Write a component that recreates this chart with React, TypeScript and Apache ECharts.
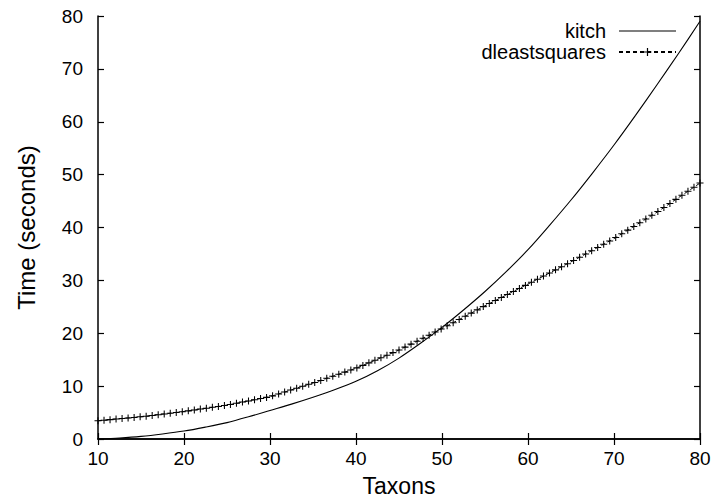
import React, { useEffect, useRef } from "react";
import * as echarts from "echarts";

const kitchTaxa = [
  10, 12.5, 15, 17.5, 20, 22.5, 25, 27.5, 30, 32.5, 35, 37.5, 40, 42.5, 45,
  47.5, 50, 52.5, 55, 57.5, 60, 62.5, 65, 67.5, 70, 72.5, 75, 77.5, 80,
];
const kitchTime = [
  0, 0.2, 0.5, 0.95, 1.5, 2.25, 3.1, 4.2, 5.4, 6.6, 7.9, 9.3, 10.9, 12.9, 15.3,
  18.1, 21.1, 24.4, 27.9, 31.7, 35.8, 40.4, 45.2, 50.3, 55.6, 61.2, 67.0, 72.9, 79.0,
];

const dlsTaxa = [
  10.0, 10.7, 11.4, 12.1, 12.8, 13.5, 14.2, 14.9, 15.6, 16.3,
  17.0, 17.7, 18.4, 19.1, 19.8, 20.5, 21.2, 21.9, 22.6, 23.3,
  24.0, 24.7, 25.4, 26.1, 26.8, 27.5, 28.2, 28.9, 29.6, 30.3,
  31.0, 31.7, 32.4, 33.1, 33.8, 34.5, 35.2, 35.9, 36.6, 37.3,
  38.0, 38.7, 39.4, 40.1, 40.8, 41.5, 42.2, 42.9, 43.6, 44.3,
  45.0, 45.7, 46.4, 47.1, 47.8, 48.5, 49.2, 49.9, 50.6, 51.3,
  52.0, 52.7, 53.4, 54.1, 54.8, 55.5, 56.2, 56.9, 57.6, 58.3,
  59.0, 59.7, 60.4, 61.1, 61.8, 62.5, 63.2, 63.9, 64.6, 65.3,
  66.0, 66.7, 67.4, 68.1, 68.8, 69.5, 70.2, 70.9, 71.6, 72.3,
  73.0, 73.7, 74.4, 75.1, 75.8, 76.5, 77.2, 77.9, 78.6, 79.3,
  80.0,
];
const dlsTime = [
  3.45, 3.56, 3.66, 3.77, 3.87, 3.98, 4.08, 4.19, 4.32, 4.46,
  4.60, 4.74, 4.88, 5.02, 5.16, 5.32, 5.49, 5.66, 5.82, 5.99,
  6.16, 6.33, 6.53, 6.75, 6.98, 7.20, 7.42, 7.65, 7.87, 8.16,
  8.52, 8.88, 9.25, 9.61, 9.98, 10.34, 10.68, 11.08, 11.48, 11.88,
  12.25, 12.65, 13.05, 13.45, 13.92, 14.40, 14.88, 15.36, 15.85, 16.34,
  16.83, 17.38, 17.94, 18.50, 19.07, 19.64, 20.22, 20.80, 21.40, 22.00,
  22.60, 23.20, 23.81, 24.42, 25.04, 25.61, 26.18, 26.76, 27.33, 27.91,
  28.48, 29.05, 29.64, 30.22, 30.81, 31.40, 31.99, 32.58, 33.16, 33.76,
  34.38, 34.99, 35.61, 36.23, 36.84, 37.46, 38.10, 38.80, 39.50, 40.20,
  40.90, 41.60, 42.30, 43.01, 43.78, 44.55, 45.32, 46.09, 46.86, 47.63,
  48.40,
];

const FONT = "Liberation Sans, Arial, Helvetica, sans-serif";
const PLUS =
  "path://M-0.15,-1L0.15,-1L0.15,-0.15L1,-0.15L1,0.15L0.15,0.15L0.15,1L-0.15,1L-0.15,0.15L-1,0.15L-1,-0.15L-0.15,-0.15Z";
const SOLID_ICON = "path://M0,0L57,0L57,1.1L0,1.1Z";

export default function App() {
  const ref = useRef<HTMLDivElement>(null);
  useEffect(() => {
    if (!ref.current) return;
    const chart = echarts.init(ref.current, null, { renderer: "svg" });
    const axisCommon = {
      axisLine: { show: true, lineStyle: { color: "#000", width: 1.5 } },
      axisTick: { show: true, inside: true, length: 6, lineStyle: { color: "#000", width: 1.2 } },
      splitLine: { show: false },
    };
    chart.setOption({
      animation: false,
      backgroundColor: "#fff",
      textStyle: { fontFamily: FONT, color: "#000" },
      grid: { left: 98, right: 15, top: 16, bottom: 61, containLabel: false },
      legend: {
        data: [{ name: "kitch", icon: SOLID_ICON }, { name: "dleastsquares" }],
        orient: "vertical",
        right: 38,
        top: 21,
        align: "right",
        itemWidth: 57,
        itemHeight: 10,
        itemGap: 1,
        padding: 0,
        textStyle: { fontFamily: FONT, fontSize: 20, color: "#000", padding: [0, 8, 0, 0] },
      },
      xAxis: [
        {
          type: "value",
          min: 10,
          max: 80,
          interval: 10,
          position: "bottom",
          name: "Taxons",
          nameLocation: "middle",
          nameGap: 35,
          nameTextStyle: { fontFamily: FONT, fontSize: 23, color: "#000" },
          axisLabel: { fontFamily: FONT, fontSize: 19, color: "#000", margin: 10 },
          ...axisCommon,
        },
        {
          type: "value",
          min: 10,
          max: 80,
          interval: 10,
          position: "top",
          axisLabel: { show: false },
          ...axisCommon,
        },
      ],
      yAxis: [
        {
          type: "value",
          min: 0,
          max: 80,
          interval: 10,
          position: "left",
          name: "Time (seconds)",
          nameLocation: "middle",
          nameGap: 60,
          nameTextStyle: { fontFamily: FONT, fontSize: 24, color: "#000" },
          axisLabel: { fontFamily: FONT, fontSize: 19, color: "#000", margin: 15 },
          ...axisCommon,
        },
        {
          type: "value",
          min: 0,
          max: 80,
          interval: 10,
          position: "right",
          axisLabel: { show: false },
          ...axisCommon,
        },
      ],
      series: [
        {
          name: "kitch",
          type: "line",
          symbol: "none",
          smooth: 0.3,
          lineStyle: { color: "#000", width: 1.1 },
          itemStyle: { color: "#000" },
          data: kitchTaxa.map((x, i) => [x, kitchTime[i]]),
        },
        {
          name: "dleastsquares",
          type: "line",
          symbol: PLUS,
          symbolSize: 7,
          showSymbol: true,
          lineStyle: { color: "#000", width: 1, type: [4, 3] },
          itemStyle: { color: "#000" },
          data: dlsTaxa.map((x, i) => [x, dlsTime[i]]),
        },
      ],
    });
    return () => chart.dispose();
  }, []);
  return (
    <div
      ref={ref}
      style={{ position: "fixed", left: 0, top: 0, width: 715, height: 502, background: "#fff" }}
    />
  );
}
